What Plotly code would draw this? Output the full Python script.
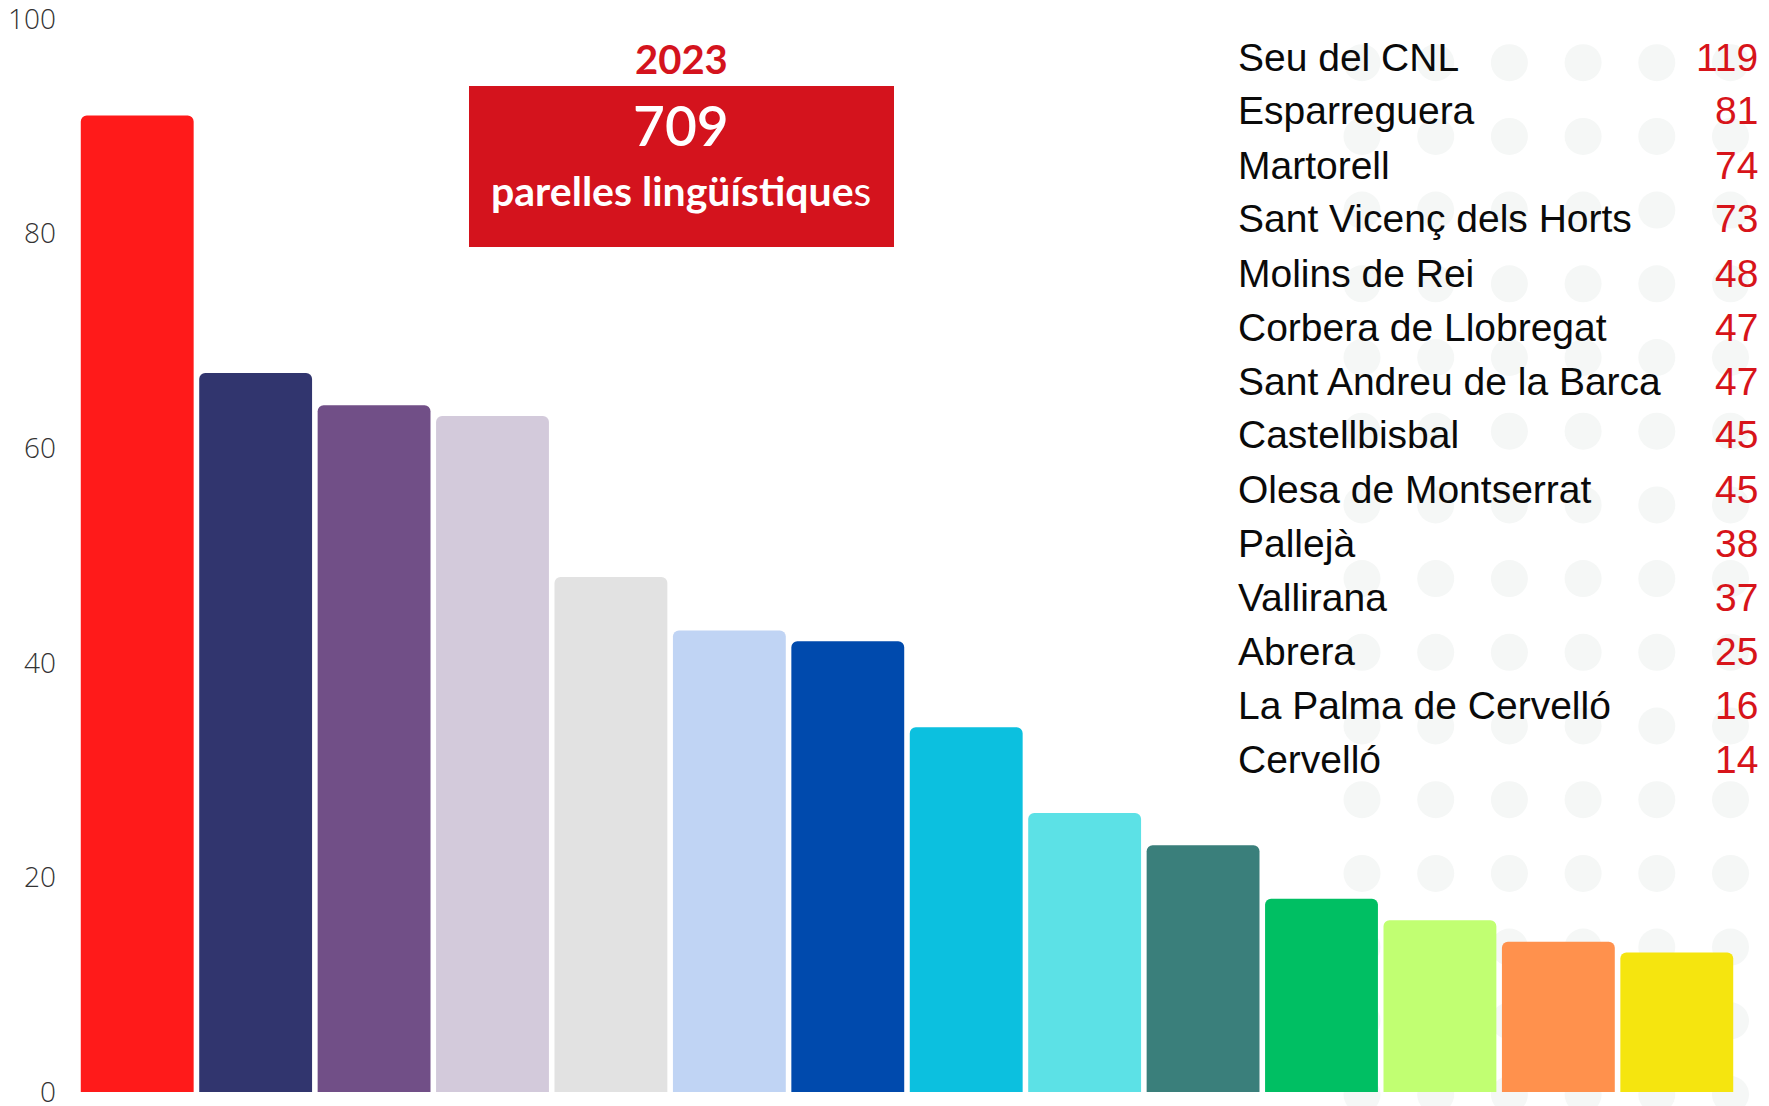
import plotly.graph_objects as go

W, H = 1769, 1106
OFF = 8  # page body margin: figure starts at (8, 8) in the window
M_L, M_R, M_T, M_B = 70, 41, 11, 22

# ── Data ─────────────────────────────────────────────────────────────────────
municipis = [
    "Seu del CNL", "Esparreguera", "Martorell", "Sant Vicenç dels Horts",
    "Molins de Rei", "Corbera de Llobregat", "Sant Andreu de la Barca",
    "Castellbisbal", "Olesa de Montserrat", "Pallejà", "Vallirana",
    "Abrera", "La Palma de Cervelló", "Cervelló",
]
parelles = [119, 81, 74, 73, 48, 47, 47, 45, 45, 38, 37, 25, 16, 14]
barres = [91, 67, 64, 63, 48, 43, 42, 34, 26, 23, 18, 16, 14, 13]
colors = [
    "#FF1A1A", "#31356E", "#714F87", "#D3CADB", "#E2E2E2", "#C0D4F4", "#004AAD",
    "#0CC0DF", "#5CE1E6", "#3A7F7B", "#00BF63", "#C1FF72", "#FF914D", "#F5E50F",
]
y_ticks = [0, 20, 40, 60, 80, 100]
any_txt = "2023"
total_txt = "709"

RED = "#D4131D"


# page pixel -> paper coordinate
def px_x(p):
    return (p - OFF - M_L) / (W - M_L - M_R)


def px_y(p):
    return 1 - (p - OFF - M_T) / (H - M_T - M_B)


fig = go.Figure(go.Bar(
    x=municipis,
    y=barres,
    marker=dict(color=colors, line=dict(width=0), cornerradius=6),
    hoverinfo="x+y",
))

# ── Decorative dot pattern (background) ──────────────────────────────────────
shapes = []
r = 18.5
for row in range(16):
    cy = -11 + row * 73.7
    for col in range(6):
        cx = 1362 + col * 73.7
        shapes.append(dict(
            type="circle", xref="paper", yref="paper", layer="below",
            x0=px_x(cx - r), x1=px_x(cx + r), y0=px_y(cy + r), y1=px_y(cy - r),
            fillcolor="#F5F7F6", line=dict(width=0),
        ))

# red box
shapes.append(dict(
    type="rect", xref="paper", yref="paper", layer="above",
    x0=px_x(469), x1=px_x(894), y0=px_y(247), y1=px_y(86),
    fillcolor=RED, line=dict(width=0),
))

annotations = [
    dict(text=f"<b>{any_txt}</b>", x=px_x(681), y=px_y(59),
         font=dict(family="Lato", size=40, color=RED)),
    dict(text=total_txt, x=px_x(681), y=px_y(125),
         font=dict(family="Lato", size=55, color="white", weight=600)),
    dict(text="<b>parelles lingüístique</b>s", x=px_x(681), y=px_y(191),
         font=dict(family="Lato", size=41, color="white")),
]
for a in annotations:
    a.update(xref="paper", yref="paper", showarrow=False,
             xanchor="center", yanchor="middle")

# list of municipalities with their number of pairs
for i, (name, val) in enumerate(zip(municipis, parelles)):
    yy = px_y(57 + i * 54)
    annotations.append(dict(
        text=name, x=px_x(1236), y=yy, xref="paper", yref="paper",
        xanchor="left", yanchor="middle", showarrow=False,
        font=dict(family="Liberation Sans", size=39, color="#0A0A0A"),
    ))
    annotations.append(dict(
        text=str(val), x=px_x(1760), y=yy, xref="paper", yref="paper",
        xanchor="right", yanchor="middle", showarrow=False,
        font=dict(family="Liberation Sans", size=39, color="#D7141A"),
    ))

fig.update_layout(
    width=W, height=H,
    margin=dict(l=M_L, r=M_R, t=M_T, b=M_B),
    paper_bgcolor="white",
    plot_bgcolor="rgba(0,0,0,0)",
    bargap=0.047,
    showlegend=False,
    shapes=shapes,
    annotations=annotations,
    xaxis=dict(showticklabels=False, showgrid=False, zeroline=False,
               showline=False, ticks="", automargin=False),
    yaxis=dict(range=[0, 100], tickvals=y_ticks, showgrid=False,
               zeroline=False, showline=False, ticks="", automargin=False,
               ticklabelstandoff=21, ticklabeloverflow="allow",
               tickfont=dict(family="Open Sans", size=28, color="#333333", weight=300)),
)

fig.write_html("out.html")
